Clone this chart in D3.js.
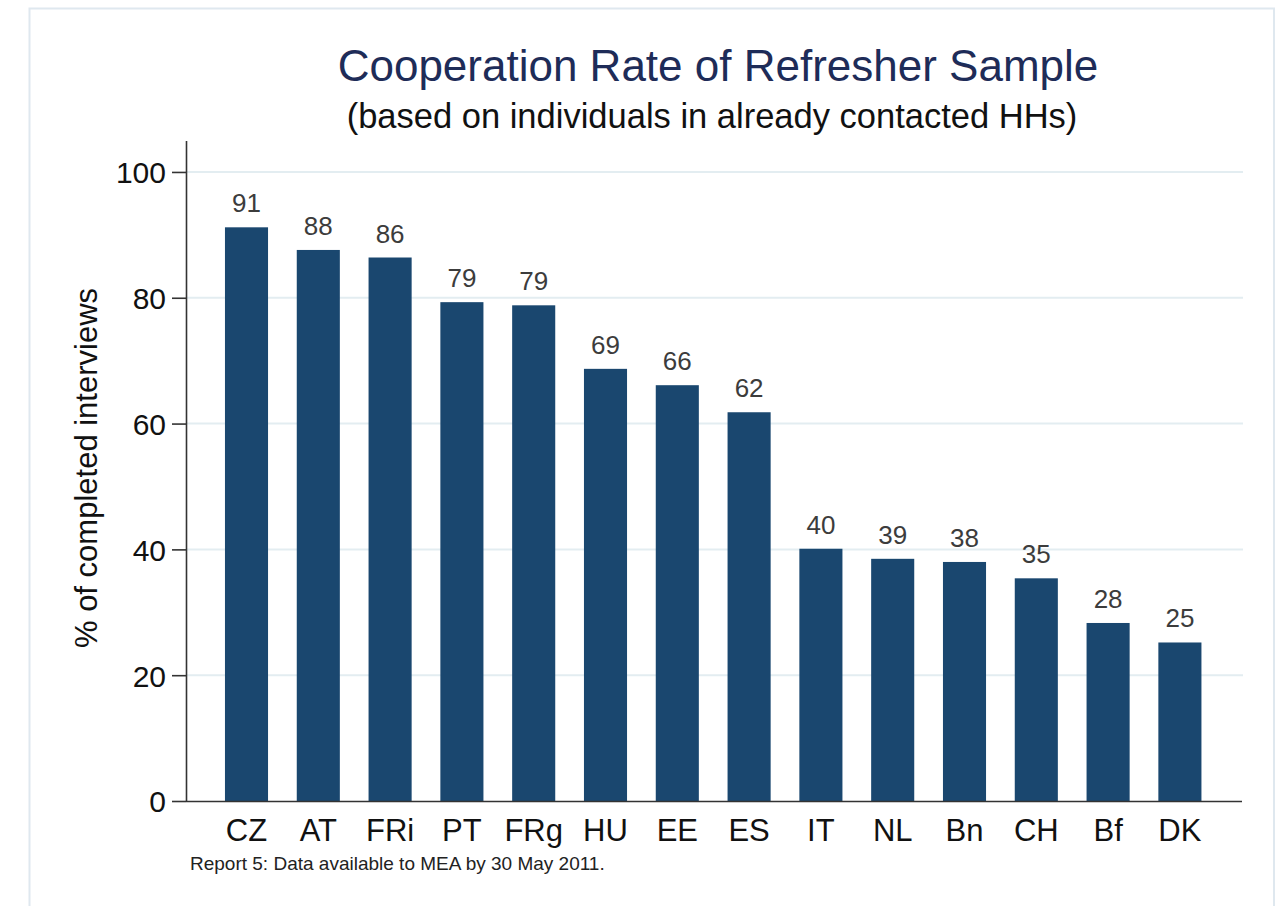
<!DOCTYPE html>
<html>
<head>
<meta charset="utf-8">
<script src="https://cdn.jsdelivr.net/npm/d3@7"></script>
<style>
  body { margin: 0; background: #fff; }
  svg { display: block; font-family: "Liberation Sans", Arial, sans-serif; }
</style>
</head>
<body>
<div id="chart"></div>
<script>
// countries in display order
const countries = ["CZ", "AT", "FRi", "PT", "FRg", "HU", "EE", "ES", "IT", "NL", "Bn", "CH", "Bf", "DK"];
// cooperation rate (%)
const rates = [91.2, 87.6, 86.4, 79.3, 78.8, 68.7, 66.1, 61.8, 40.1, 38.5, 38.0, 35.4, 28.3, 25.2];
const yTicks = [0, 20, 40, 60, 80, 100];

const width = 1284, height = 906;
const navy = "#1a476f";

const svg = d3.select("#chart").append("svg")
    .attr("width", width)
    .attr("height", height);

// outer graph frame
svg.append("rect")
    .attr("x", 29.5).attr("y", 8.5)
    .attr("width", 1244.5).attr("height", 930)
    .attr("fill", "none")
    .attr("stroke", "#dfe8ef")
    .attr("stroke-width", 2);

const plot = { left: 186, right: 1242, top: 140.5, bottom: 801 };

const x = d3.scaleBand()
    .domain(countries)
    .range([210.6, 1215.8])
    .paddingInner(0.4)
    .paddingOuter(0.2);

const y = d3.scaleLinear()
    .domain([0, 105])
    .range([plot.bottom, plot.top]);

// gridlines
svg.append("g")
    .selectAll("line")
    .data(yTicks.filter(d => d > 0))
    .join("line")
    .attr("x1", plot.left).attr("x2", plot.right + 1)
    .attr("y1", d => y(d)).attr("y2", d => y(d))
    .attr("stroke", "#e3edf1")
    .attr("stroke-width", 2);

// bars
svg.append("g")
    .selectAll("rect")
    .data(countries.map((c, i) => ({ c, v: rates[i] })))
    .join("rect")
    .attr("x", d => x(d.c))
    .attr("width", x.bandwidth())
    .attr("y", d => y(d.v))
    .attr("height", d => y(0) - y(d.v))
    .attr("fill", navy);

// bar value labels
svg.append("g")
    .selectAll("text")
    .data(countries.map((c, i) => ({ c, v: rates[i] })))
    .join("text")
    .attr("x", d => x(d.c) + x.bandwidth() / 2)
    .attr("y", d => y(d.v) - 15)
    .attr("text-anchor", "middle")
    .attr("fill", "#3c3c3c")
    .style("font-size", "26px")
    .text(d => Math.round(d.v));

// y axis
const yAxis = svg.append("g")
    .attr("transform", `translate(${plot.left},0)`)
    .call(d3.axisLeft(y).tickValues(yTicks).tickSize(14).tickSizeOuter(0).tickPadding(6));
yAxis.select(".domain").attr("stroke", "#333").attr("stroke-width", 1.6);
yAxis.selectAll(".tick line").attr("stroke", "#333").attr("stroke-width", 1.6);
yAxis.selectAll(".tick text")
    .attr("fill", "#111")
    .style("font-size", "30px")
    .attr("dy", "0.36em");

// x axis
const xAxis = svg.append("g")
    .attr("transform", `translate(0,${plot.bottom})`)
    .call(d3.axisBottom(x).tickSize(0).tickPadding(18));
xAxis.select(".domain")
    .attr("d", `M${plot.left},0.5H${plot.right}`)
    .attr("stroke", "#333").attr("stroke-width", 1.6);
xAxis.selectAll(".tick text")
    .attr("fill", "#111")
    .style("font-size", "31px");

// y axis title
svg.append("text")
    .attr("transform", "translate(97,468) rotate(-90)")
    .attr("text-anchor", "middle")
    .attr("fill", "#111")
    .style("font-size", "31px")
    .text("% of completed interviews");

// titles
svg.append("text")
    .attr("x", 718).attr("y", 81)
    .attr("text-anchor", "middle")
    .attr("fill", "#1e2c58")
    .style("font-size", "44px")
    .text("Cooperation Rate of Refresher Sample");

svg.append("text")
    .attr("x", 712).attr("y", 128)
    .attr("text-anchor", "middle")
    .attr("fill", "#111")
    .style("font-size", "34.5px")
    .text("(based on individuals in already contacted HHs)");

// note
svg.append("text")
    .attr("x", 190).attr("y", 870)
    .attr("fill", "#222")
    .style("font-size", "19px")
    .text("Report 5: Data available to MEA by 30 May 2011.");
</script>
</body>
</html>
